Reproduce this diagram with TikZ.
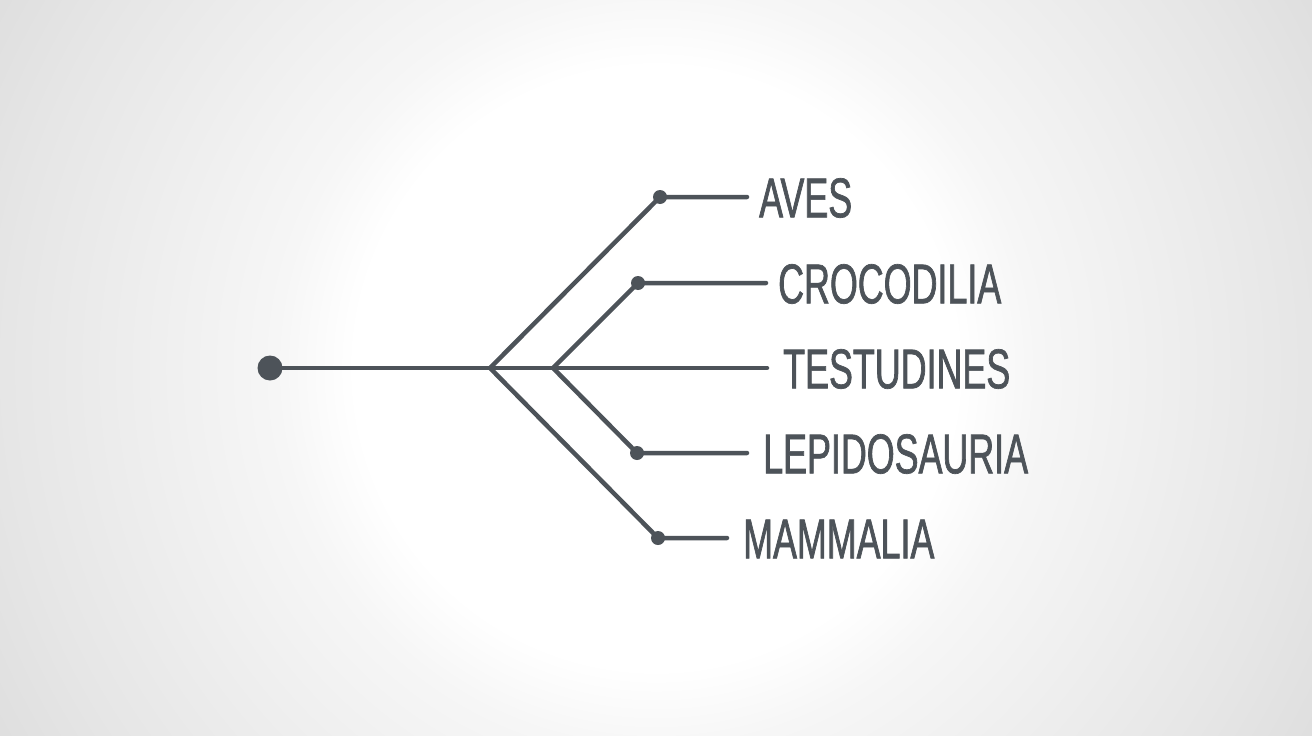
\documentclass[tikz,border=0pt]{standalone}
\usepackage{fontspec}
\newfontfamily\cladefont[FakeStretch=0.64,FakeBold=1.2]{Liberation Sans}
\definecolor{treegray}{HTML}{4D5359}
\definecolor{bgmid}{HTML}{F6F6F6}
\definecolor{bgedge}{HTML}{E6E6E6}
\definecolor{bgcorner}{HTML}{DFDFDF}
\pgfdeclareradialshading{bgglow}{\pgfpoint{0bp}{0bp}}{color(0bp)=(white); color(9.4bp)=(white); color(11.9bp)=(bgmid); color(20.3bp)=(bgedge); color(23.4bp)=(bgcorner); color(50bp)=(bgcorner)}
\tikzset{
  branch/.style={draw=treegray, line width=4.5pt, line cap=round, line join=round},
  tipdot/.style={circle, fill=treegray, inner sep=0pt, minimum size=14pt},
  rootdot/.style={circle, fill=treegray, inner sep=0pt, minimum size=25pt},
  clade/.style={anchor=west, inner sep=0pt, text=treegray, font=\cladefont\fontsize{56}{56}\selectfont}
}
\begin{document}
\begin{tikzpicture}[x=1pt,y=1pt,yscale=-1,xscale=1]
% background
\begin{scope}
\clip (0,0) rectangle (1312,736);
\shade[shading=bgglow] (-144,-432) rectangle (1456,1168);
\end{scope}
\useasboundingbox (0,0) rectangle (1312,736);

% root and junctions
\node[rootdot] (root) at (270,368) {};
\coordinate (j1) at (490,368);
\coordinate (j2) at (553,368);

% tip dots
\node[tipdot] (aves) at (660,197) {};
\node[tipdot] (croc) at (638,283) {};
\node[tipdot] (lepi) at (637,453) {};
\node[tipdot] (mamm) at (658,538) {};

% line ends
\coordinate (avesE) at (747,197);
\coordinate (crocE) at (766,283);
\coordinate (testE) at (767,368);
\coordinate (lepiE) at (747,453);
\coordinate (mammE) at (727,538);

% branches
\draw[branch] (root.center) -- (j1) -- (j2) -- (testE);
\draw[branch] (j1) -- (aves.center) -- (avesE);
\draw[branch] (j1) -- (mamm.center) -- (mammE);
\draw[branch] (j2) -- (croc.center) -- (crocE);
\draw[branch] (j2) -- (lepi.center) -- (lepiE);

% Text Node
\node[clade] (avesT) at (759,198) {AVES};
% Text Node
\node[clade] (crocT) at (778,284) {CROCODILIA};
% Text Node
\node[clade] (testT) at (783,369) {TESTUDINES};
% Text Node
\node[clade] (lepiT) at (763,454) {LEPIDOSAURIA};
% Text Node
\node[clade] (mammT) at (743,539) {MAMMALIA};
\end{tikzpicture}
\end{document}
